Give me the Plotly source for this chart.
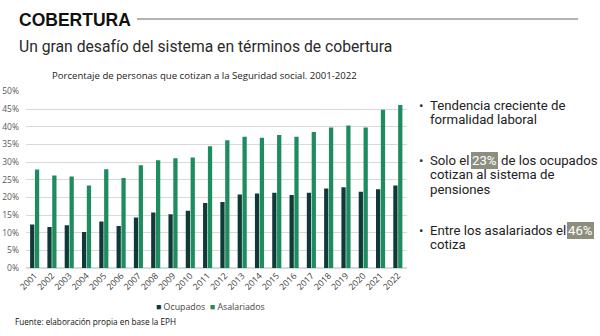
import plotly.graph_objects as go

years = [str(y) for y in range(2001, 2023)]
ocupados = [12.3, 11.6, 12.1, 10.2, 13.2, 11.9, 14.3, 15.7, 15.2, 16.2, 18.4,
            18.7, 20.8, 21.1, 21.3, 20.7, 21.3, 22.5, 22.9, 21.6, 22.3, 23.4]
asalariados = [27.9, 26.2, 25.9, 23.4, 28.0, 25.5, 29.1, 30.5, 31.1, 31.3, 34.5,
               36.2, 37.2, 36.9, 37.7, 37.2, 38.5, 39.8, 40.4, 39.8, 44.8, 46.2]
yticks = list(range(0, 51, 5))

W, H = 600, 336
def px(x):
    return x / W
def py(y):
    return 1 - y / H

C_OCU = "#0e3b3a"
C_ASA = "#1e8c5f"
HL = "#8e8e7f"

fig = go.Figure()
fig.add_trace(go.Bar(x=years, y=ocupados, name="Ocupados", marker_color=C_OCU, marker_line_width=0))
fig.add_trace(go.Bar(x=years, y=asalariados, name="Asalariados", marker_color=C_ASA, marker_line_width=0))

fig.update_layout(
    width=W, height=H, margin=dict(l=0, r=0, t=0, b=0, autoexpand=False),
    paper_bgcolor="white", plot_bgcolor="white",
    barmode="group", bargap=0.44, bargroupgap=0.12,
    showlegend=False,
    font=dict(family="Open Sans", color="#595959"),
    xaxis=dict(domain=[px(26), px(406.5)], tickangle=-45, tickfont=dict(size=8.7, color="#404040"),
               showgrid=False, showline=False, ticks="", automargin=False),
    yaxis=dict(domain=[py(268), py(91.5)], range=[0, 50], tickvals=yticks,
               ticktext=[f"{v}%" for v in yticks], tickfont=dict(size=8.5, color="#595959"),
               showgrid=True, gridcolor="#d9d9d9", gridwidth=1, zeroline=True,
               zerolinecolor="#d9d9d9", ticks="", ticklabelstandoff=6, automargin=False),
)

ann = []
def text(x, y, t, size, color="#222", family="Roboto", xanchor="left", yanchor="middle", **kw):
    kw.setdefault("borderpad", 0)
    ann.append(dict(x=px(x), y=py(y), xref="paper", yref="paper", text=t, showarrow=False,
                    xanchor=xanchor, yanchor=yanchor, align="left", borderwidth=0,
                    font=dict(size=size, color=color, family=family), **kw))

text(19, 20, "<b>COBERTURA</b>", 17.5, color="#111", family="Liberation Sans")
text(19, 47, "Un gran desafío del sistema en términos de cobertura", 15.7, color="#2a2a2a", family="Roboto")
text(204, 75.5, "Porcentaje de personas que cotizan a la Seguridad social. 2001-2022", 9.6,
     color="#222", family="Open Sans", xanchor="center")
text(156, 307, f"<span style='color:{C_OCU}'>■</span> Ocupados  <span style='color:{C_ASA}'>■</span> Asalariados",
     8.8, color="#444", family="Open Sans")
text(15, 321, "Fuente: elaboración propia en base la EPH", 8.2, color="#111", family="Open Sans")

# Bullets
BX, TX = 419, 430
fs = 13.2
for y in (105, 160, 230):
    text(BX, y, "•", fs, color="#333")
text(TX, 105, "Tendencia creciente de", fs)
text(TX, 119.5, "formalidad laboral", fs)
text(TX, 160, "Solo el", fs)
text(471, 160, "<span style='color:white'>23%</span>", fs, bgcolor=HL, borderpad=1)
text(501, 160, "de los ocupados", fs)
text(TX, 174.5, "cotizan al sistema de", fs)
text(TX, 189, "pensiones", fs)
text(TX, 230, "Entre los asalariados el", fs)
text(567, 230, "<span style='color:white'>46%</span>", fs, bgcolor=HL, borderpad=1)
text(TX, 244.5, "cotiza", fs)

fig.update_layout(annotations=ann,
                  shapes=[dict(type="line", xref="paper", yref="paper", x0=px(137), x1=px(578),
                               y0=py(19), y1=py(19), line=dict(color="#9a9a9a", width=1.5))])

fig.write_html("out.html")
